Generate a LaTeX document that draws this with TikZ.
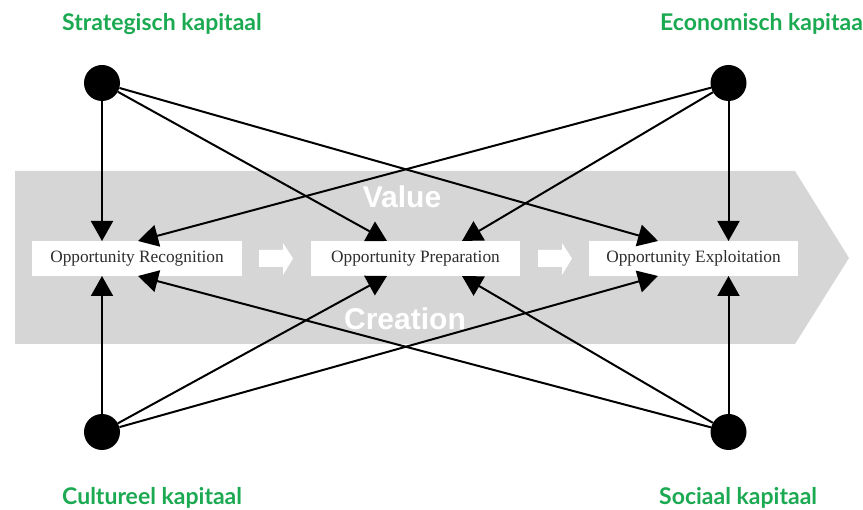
\documentclass[tikz,border=0pt]{standalone}
\usepackage{fontspec}
\newfontfamily\labelfont{Lato}
\newfontfamily\bandfont{Liberation Sans}
\newfontfamily\boxfont{Liberation Serif}
\usetikzlibrary{arrows.meta}

\definecolor{capgreen}{RGB}{27,170,82}
\definecolor{bandgrey}{RGB}{214,214,214}
\definecolor{boxtext}{RGB}{45,45,45}

\tikzset{
  capital/.style={circle, fill=black, minimum size=36pt, inner sep=0pt},
  stage/.style={fill=white, minimum width=210pt, minimum height=35pt, inner sep=0pt,
                text=boxtext, font=\boxfont\fontsize{17.3}{20}\selectfont},
  link/.style={line width=2pt, -{Triangle[length=20pt,width=22pt]}},
  caplabel/.style={text=capgreen, font=\labelfont\bfseries\fontsize{23}{27}\selectfont,
                   anchor=base west, inner sep=0pt},
  bandtext/.style={text=white, font=\bandfont\bfseries\fontsize{30}{34}\selectfont,
                   anchor=base, inner sep=0pt},
  flowarrow/.style={fill=white, draw=none},
}

\begin{document}
\begin{tikzpicture}[x=1pt, y=-1pt]
  \useasboundingbox (0,0) rectangle (863,510);
  \clip (0,0) rectangle (863,510);

  % value-creation band
  \fill[bandgrey] (15,171) -- (795,171) -- (849,258) -- (795,344) -- (15,344) -- cycle;
  \node[bandtext] (value) at (402,208) {Value};
  \node[bandtext] (creation) at (405,330) {Creation};

  % small white flow arrows between the stages
  \fill[flowarrow] (259,250) -- (283,250) -- (283,243) -- (293,258.5) -- (283,275)
                   -- (283,267) -- (259,267) -- cycle;
  \fill[flowarrow] (538,250) -- (562,250) -- (562,243) -- (572,258.5) -- (562,275)
                   -- (562,267) -- (538,267) -- cycle;

  % the three stages
  \node[stage] (rec)  at (137,258.5)   {Opportunity Recognition};
  \node[stage, minimum width=209pt] (prep) at (415.5,258.5) {Opportunity Preparation};
  \node[stage, minimum width=209pt] (expl) at (693.5,258.5) {Opportunity Exploitation};

  % arrow end points on the stage boxes
  \coordinate (recTL)  at (102,241);  \coordinate (recTR)  at (138,241);
  \coordinate (recBL)  at (102,276);  \coordinate (recBR)  at (138,276);
  \coordinate (prepTL) at (387,241);  \coordinate (prepTR) at (462,241);
  \coordinate (prepBL) at (387,276);  \coordinate (prepBR) at (462,276);
  \coordinate (explTL) at (658,241);  \coordinate (explTR) at (728.5,241);
  \coordinate (explBL) at (658,276);  \coordinate (explBR) at (728.5,276);

  % the four forms of capital
  \node[capital] (strat) at (102,83) {};
  \node[capital] (econ)  at (728.5,83) {};
  \node[capital] (cult)  at (102,432) {};
  \node[capital] (soc)   at (728.5,432) {};

  % influences
  \draw[link] (strat) -- (recTL);
  \draw[link] (strat) -- (prepTL);
  \draw[link] (strat) -- (explTL);
  \draw[link] (econ)  -- (explTR);
  \draw[link] (econ)  -- (prepTR);
  \draw[link] (econ)  -- (recTR);
  \draw[link] (cult)  -- (recBL);
  \draw[link] (cult)  -- (prepBL);
  \draw[link] (cult)  -- (explBL);
  \draw[link] (soc)   -- (explBR);
  \draw[link] (soc)   -- (prepBR);
  \draw[link] (soc)   -- (recBR);

  % labels
  \node[caplabel] (lstrat) at (62,31)  {Strategisch kapitaal};
  \node[caplabel] (lecon)  at (660,31) {Economisch kapitaal};
  \node[caplabel] (lcult)  at (62,505) {Cultureel kapitaal};
  \node[caplabel] (lsoc)   at (659,505) {Sociaal kapitaal};
\end{tikzpicture}
\end{document}
